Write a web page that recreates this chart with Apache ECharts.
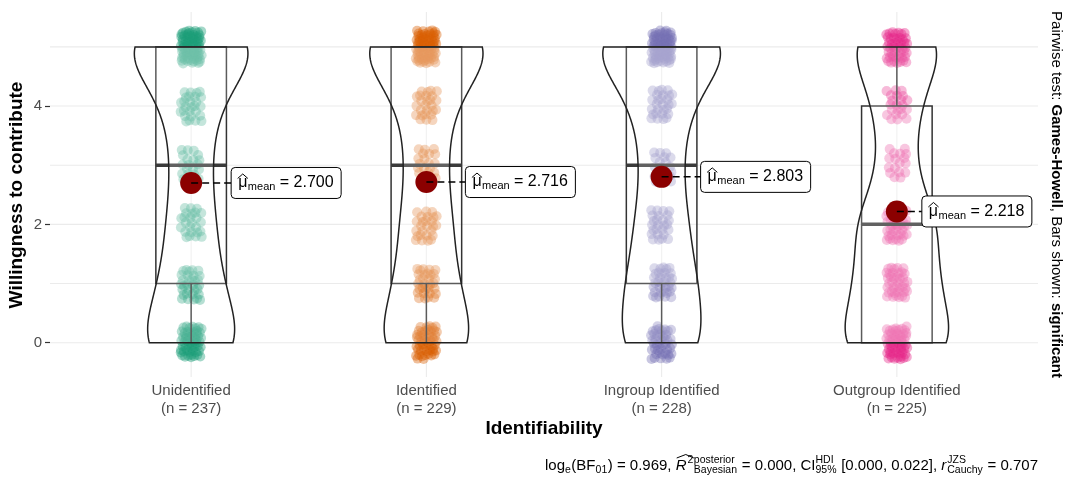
<!DOCTYPE html>
<html>
<head>
<meta charset="utf-8">
<script src="https://cdn.jsdelivr.net/npm/echarts@6/dist/echarts.min.js"></script>
<style>html,body{margin:0;padding:0;background:#fff}#c{width:1070px;height:477px}</style>
</head>
<body>
<div id="c"></div>
<script>
const FONT = '"Liberation Sans", Arial, Helvetica, sans-serif';

// ---- data ----
const categories = ['Unidentified', 'Identified', 'Ingroup Identified', 'Outgroup Identified'];
const sampleSizes = [237, 229, 228, 225];
const responseLevels = [0, 1, 2, 3, 4, 5];
const countsUnidentified = [55, 32, 25, 20, 27, 78];
const countsIdentified   = [51, 31, 26, 20, 26, 75];
const countsIngroup      = [43, 35, 26, 20, 28, 76];
const countsOutgroup     = [58, 40, 40, 17, 22, 48];
const meanValues = [2.700, 2.716, 2.803, 2.218];
const yTickValues = [0, 2, 4];
const yGridValues = [0, 1, 2, 3, 4, 5];
const xPositions = [1, 2, 3, 4];

// ---- styles ----
const palette = ['#1B9E77', '#D95F02', '#7570B3', '#E7298A'];
const labelNudgePx = [40, 39, 39, 25];
const Y_MIN = -0.58, Y_MAX = 5.59, X_MIN = 0.4, X_MAX = 4.6;

const groupCounts = [countsUnidentified, countsIdentified, countsIngroup, countsOutgroup];

function expand(counts) {
  const a = [];
  counts.forEach((c, i) => { for (let k = 0; k < c; k++) a.push(responseLevels[i]); });
  return a;
}
function quantile(sorted, p) {
  const h = (sorted.length - 1) * p, lo = Math.floor(h), hi = Math.min(lo + 1, sorted.length - 1);
  return sorted[lo] + (h - lo) * (sorted[hi] - sorted[lo]);
}
const groupValues = groupCounts.map(expand);
const boxStats = groupValues.map((v, gi) => {
  const q1 = quantile(v, 0.25), med = quantile(v, 0.5), q3 = quantile(v, 0.75), iqr = q3 - q1;
  const lo = Math.min(...v.filter(x => x >= q1 - 1.5 * iqr));
  const hi = Math.max(...v.filter(x => x <= q3 + 1.5 * iqr));
  return [xPositions[gi], lo, q1, med, q3, hi];
});
function bwNrd0(v) {
  const n = v.length, mean = v.reduce((a, b) => a + b, 0) / n;
  const sd = Math.sqrt(v.reduce((a, b) => a + (b - mean) * (b - mean), 0) / (n - 1));
  const iqr = quantile(v, 0.75) - quantile(v, 0.25);
  return 0.9 * Math.min(sd, iqr / 1.34) * Math.pow(n, -0.2);
}
const densGrid = [];
for (let i = 0; i <= 250; i++) densGrid.push(5 * i / 250);
const densities = groupCounts.map((c, gi) => {
  const n = groupValues[gi].length, bw = bwNrd0(groupValues[gi]);
  return densGrid.map(y => {
    let s = 0;
    c.forEach((cnt, k) => { const z = (y - responseLevels[k]) / bw; s += cnt * Math.exp(-0.5 * z * z); });
    return s / (n * bw * Math.sqrt(2 * Math.PI));
  });
});
const maxDens = Math.max(...densities.map(d => Math.max(...d)));

function jitterPoints(gi) {
  const pts = []; let k = 0;
  groupCounts[gi].forEach((cnt, li) => {
    for (let j = 0; j < cnt; j++) {
      const u = ((k + 1) * 0.7548776662466927 + gi * 0.31) % 1;
      const w = ((k + 1) * 0.5698402909980532 + gi * 0.17) % 1;
      pts.push([xPositions[gi] + (u - 0.5) * 0.09, responseLevels[li] + (w - 0.5) * 0.56]);
      k++;
    }
  });
  return pts;
}

const mctx = document.createElement('canvas').getContext('2d');
function textW(t, size, weight, style) {
  mctx.font = (style || 'normal') + ' ' + (weight || 'normal') + ' ' + size + 'px ' + FONT;
  return mctx.measureText(t).width;
}
function fontStr(size, weight, style) {
  return (style || 'normal') + ' ' + (weight || 'normal') + ' ' + size + 'px ' + FONT;
}
const MID = 0.3465; // baseline - middle offset (em)

// ---- caption layout ----
function buildCaption() {
  const B = 471, FM = 15, FS = 10.5;
  const parts = [
    { t: 'log' }, { sub: 'e' }, { t: '(BF' }, { sub: '01' }, { t: ') = 0.969, ' },
    { t: 'R', it: true, hatStart: true }, { sup: '2', hatEnd: true }, { sup: 'posterior', sub: 'Bayesian' },
    { t: ' = 0.000, CI' }, { sup: 'HDI', sub: '95%' }, { t: ' [0.000, 0.022], ' },
    { t: 'r', it: true }, { sup: 'JZS', sub: 'Cauchy' }, { t: ' = 0.707' }
  ];
  const widths = parts.map(p => {
    if (p.t !== undefined) return textW(p.t, FM, 'normal', p.it ? 'italic' : 'normal') + (p.it ? 1 : 0);
    return Math.max(p.sup ? textW(p.sup, FS) : 0, p.sub ? textW(p.sub, FS) : 0) + 0.5;
  });
  const total = widths.reduce((a, b) => a + b, 0);
  let x = 1038 - total;
  const els = [];
  let hatX0 = 0;
  parts.forEach((p, i) => {
    if (p.hatStart) hatX0 = x;
    if (p.t !== undefined) {
      els.push({ type: 'text', silent: true, style: { text: p.t, x: x, y: B - MID * FM, font: fontStr(FM, 'normal', p.it ? 'italic' : 'normal'), fill: '#000', align: 'left', verticalAlign: 'middle' } });
    }
    if (p.sup) els.push({ type: 'text', silent: true, style: { text: p.sup, x: x, y: B - 7.5 - MID * FS, font: fontStr(FS), fill: '#000', align: 'left', verticalAlign: 'middle' } });
    if (p.sub) els.push({ type: 'text', silent: true, style: { text: p.sub, x: x, y: B + 2.5 - MID * FS, font: fontStr(FS), fill: '#000', align: 'left', verticalAlign: 'middle' } });
    x += widths[i];
    if (p.hatEnd) {
      els.push({ type: 'polyline', silent: true, shape: { points: [[hatX0 + 1, B - 13], [(hatX0 + x) / 2 + 1, B - 16.5], [x, B - 13]] }, style: { stroke: '#000', lineWidth: 1, fill: null } });
    }
  });
  return els;
}

const chart = echarts.init(document.getElementById('c'), null, { renderer: 'canvas' });

const series = [];
// grid lines
series.push({
  type: 'custom', silent: true, z: 1, data: [[1, 0]],
  renderItem: (params, api) => {
    const children = [];
    yGridValues.forEach(y => {
      const a = api.coord([X_MIN, y]), b = api.coord([X_MAX, y]);
      children.push({ type: 'line', shape: { x1: a[0], y1: a[1], x2: b[0], y2: b[1] }, style: { stroke: '#EBEBEB', lineWidth: 1.1 } });
    });
    xPositions.forEach(x => {
      const a = api.coord([x, Y_MIN]), b = api.coord([x, Y_MAX]);
      children.push({ type: 'line', shape: { x1: a[0], y1: a[1], x2: b[0], y2: b[1] }, style: { stroke: '#EBEBEB', lineWidth: 1.1 } });
    });
    return { type: 'group', children };
  }
});
// jittered points
groupCounts.forEach((c, gi) => {
  series.push({
    type: 'scatter', silent: true, z: 2, symbol: 'circle', symbolSize: 10,
    itemStyle: { color: palette[gi], opacity: 0.4 },
    data: jitterPoints(gi)
  });
});
// boxplots
series.push({
  type: 'custom', silent: true, z: 3, data: boxStats, encode: { x: 0, y: [1, 2, 3, 4, 5] },
  renderItem: (params, api) => {
    const x = api.value(0), lo = api.value(1), q1 = api.value(2), med = api.value(3), q3 = api.value(4), hi = api.value(5);
    const hw = 0.15;
    const tl = api.coord([x - hw, q3]), br = api.coord([x + hw, q1]);
    const mL = api.coord([x - hw, med]), mR = api.coord([x + hw, med]);
    const children = [];
    if (hi > q3) { const a = api.coord([x, q3]), b = api.coord([x, hi]); children.push({ type: 'line', shape: { x1: a[0], y1: a[1], x2: b[0], y2: b[1] }, style: { stroke: '#333', lineWidth: 1.5 } }); }
    if (lo < q1) { const a = api.coord([x, q1]), b = api.coord([x, lo]); children.push({ type: 'line', shape: { x1: a[0], y1: a[1], x2: b[0], y2: b[1] }, style: { stroke: '#333', lineWidth: 1.5 } }); }
    children.push({ type: 'rect', shape: { x: tl[0], y: tl[1], width: br[0] - tl[0], height: br[1] - tl[1] }, style: { fill: 'rgba(255,255,255,0.2)', stroke: '#333', lineWidth: 1.5 } });
    children.push({ type: 'line', shape: { x1: mL[0], y1: mL[1], x2: mR[0], y2: mR[1] }, style: { stroke: '#3a3a3a', lineWidth: 3.5 } });
    return { type: 'group', children };
  }
});
// violins
series.push({
  type: 'custom', silent: true, z: 4, data: xPositions.map((x, i) => [x, i]),
  renderItem: (params, api) => {
    const x = api.value(0), gi = api.value(1), d = densities[gi];
    const left = [], right = [];
    densGrid.forEach((y, i) => {
      const w = 0.25 * d[i] / maxDens;
      left.push(api.coord([x - w, y]));
      right.push(api.coord([x + w, y]));
    });
    return { type: 'polygon', shape: { points: left.concat(right.reverse()) }, style: { fill: 'rgba(255,255,255,0.2)', stroke: '#222', lineWidth: 1.5 } };
  }
});
// means + labels
series.push({
  type: 'custom', silent: true, z: 5, data: meanValues.map((m, i) => [xPositions[i], m]),
  renderItem: (params, api) => {
    const idx = params.dataIndex;
    const p = api.coord([api.value(0), api.value(1)]);
    const FM = 16, FS = 11;
    const rest = ' = ' + meanValues[idx].toFixed(3);
    const muW = textW('\u03bc', FM), meanW = textW('mean', FS), restW = textW(rest, FM);
    const padL = 7, padR = 7.5, boxH = 31;
    const boxW = padL + muW + 0.5 + meanW + restW + padR;
    const bx = p[0] + labelNudgePx[idx], by = p[1] - boxH / 2;
    const base = p[1] + 5.5;
    const children = [];
    children.push({ type: 'circle', shape: { cx: p[0], cy: p[1], r: 11 }, style: { fill: '#8B0000' } });
    children.push({ type: 'line', shape: { x1: p[0], y1: p[1], x2: bx, y2: p[1] }, style: { stroke: '#000', lineWidth: 1.5, lineDash: [7, 4] } });
    children.push({ type: 'rect', shape: { x: bx, y: by, width: boxW, height: boxH, r: 4 }, style: { fill: '#fff', stroke: '#000', lineWidth: 1 } });
    let tx = bx + padL;
    children.push({ type: 'text', style: { text: '\u03bc', x: tx, y: base - MID * FM, font: fontStr(FM), fill: '#000', align: 'left', verticalAlign: 'middle' } });
    children.push({ type: 'polyline', shape: { points: [[tx - 0.5, base - 10], [tx + muW / 2, base - 14.5], [tx + muW + 0.5, base - 10]] }, style: { stroke: '#000', lineWidth: 1, fill: null } });
    tx += muW + 0.5;
    children.push({ type: 'text', style: { text: 'mean', x: tx, y: base + 2.5 - MID * FS, font: fontStr(FS), fill: '#000', align: 'left', verticalAlign: 'middle' } });
    tx += meanW;
    children.push({ type: 'text', style: { text: rest, x: tx, y: base - MID * FM, font: fontStr(FM), fill: '#000', align: 'left', verticalAlign: 'middle' } });
    return { type: 'group', children };
  }
});

const option = {
  animation: false,
  backgroundColor: '#fff',
  textStyle: { fontFamily: FONT },
  grid: { left: 50, right: 32, top: 12, bottom: 100, containLabel: false },
  xAxis: {
    type: 'value', min: X_MIN, max: X_MAX,
    axisLine: { show: false }, splitLine: { show: false },
    axisTick: { show: true, customValues: xPositions, length: 5, lineStyle: { color: '#333', width: 1.2 } },
    axisLabel: {
      customValues: xPositions, margin: 5, color: '#4D4D4D', fontSize: 15, lineHeight: 18, fontFamily: FONT,
      formatter: v => { const i = Math.round(v) - 1; return categories[i] + '\n(n = ' + sampleSizes[i] + ')'; }
    }
  },
  yAxis: {
    type: 'value', min: Y_MIN, max: Y_MAX,
    axisLine: { show: false }, splitLine: { show: false },
    axisTick: { show: true, customValues: yTickValues, length: 5, lineStyle: { color: '#333', width: 1.2 } },
    axisLabel: { customValues: yTickValues, margin: 8, color: '#4D4D4D', fontSize: 15, fontFamily: FONT, formatter: v => String(Math.round(v)) }
  },
  graphic: [
    { type: 'text', silent: true, x: 17, y: 195, rotation: Math.PI / 2,
      style: { text: 'Willingness to contribute', font: fontStr(19, 'bold'), fill: '#000', align: 'center', verticalAlign: 'middle' } },
    { type: 'text', silent: true, x: 544, y: 435 - MID * 19,
      style: { text: 'Identifiability', font: fontStr(19, 'bold'), fill: '#000', align: 'center', verticalAlign: 'middle' } },
    { type: 'text', silent: true, x: 1056, y: 194.5, rotation: -Math.PI / 2,
      style: { text: '{a|Pairwise test: }{b|Games-Howell}{a|, Bars shown: }{b|significant}', align: 'center', verticalAlign: 'middle',
        rich: { a: { font: fontStr(15), fill: '#000' }, b: { font: fontStr(15, 'bold'), fill: '#000' } } } }
  ].concat(buildCaption()),
  series: series
};
chart.setOption(option);
</script>
</body>
</html>
